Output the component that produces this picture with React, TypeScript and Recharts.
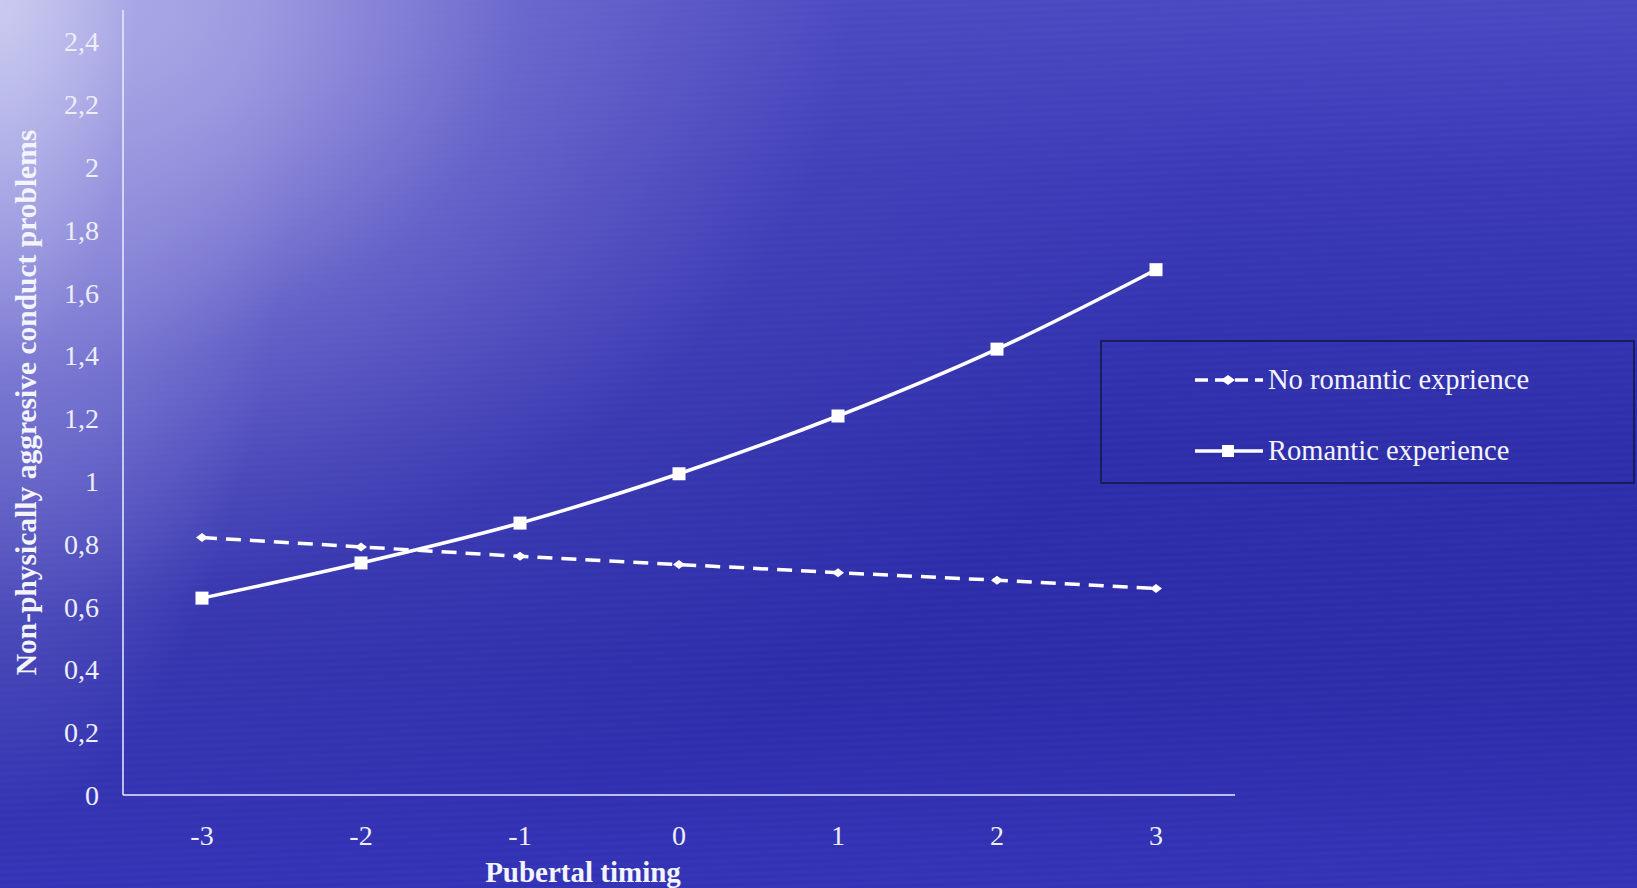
import React from 'react';
import { LineChart, Line, XAxis, YAxis, Legend } from 'recharts';

const categories = ['-3', '-2', '-1', '0', '1', '2', '3'];
const noRomantic = [0.82, 0.79, 0.76, 0.734, 0.708, 0.684, 0.658];
const romantic = [0.627, 0.739, 0.866, 1.023, 1.207, 1.42, 1.673];
const yTicks = [0, 0.2, 0.4, 0.6, 0.8, 1, 1.2, 1.4, 1.6, 1.8, 2, 2.2, 2.4];

const seriesNames = {
  noRomantic: 'No romantic exprience',
  romantic: 'Romantic experience',
};

const data = categories.map((c, i) => ({
  x: c,
  noRomantic: noRomantic[i],
  romantic: romantic[i],
}));

const FONT = '"Liberation Serif", "Times New Roman", serif';

const DiamondDot = (props: any) => {
  const { cx, cy, index } = props;
  if (cx == null || cy == null) return null;
  return (
    <polygon
      key={`d-${index}`}
      points={`${cx - 6},${cy} ${cx},${cy - 4.5} ${cx + 6},${cy} ${cx},${cy + 4.5}`}
      fill="#ffffff"
    />
  );
};

const SquareDot = (props: any) => {
  const { cx, cy, index } = props;
  if (cx == null || cy == null) return null;
  return <rect key={`s-${index}`} x={cx - 6.5} y={cy - 6.5} width={13} height={13} fill="#ffffff" />;
};

const renderLegend = () => {
  const rows = [
    { name: seriesNames.noRomantic, dashed: true, top: 38 },
    { name: seriesNames.romantic, dashed: false, top: 109 },
  ];
  return (
    <div style={{ position: 'relative', width: 531, height: 140 }}>
      {rows.map((r) => (
        <div
          key={r.name}
          style={{
            position: 'absolute',
            left: 91,
            top: r.top - 18,
            height: 36,
            display: 'flex',
            alignItems: 'center',
            whiteSpace: 'nowrap',
          }}
        >
          <svg width={72} height={20} style={{ display: 'block' }}>
            <line
              x1={2}
              y1={10}
              x2={70}
              y2={10}
              stroke="#ffffff"
              strokeWidth={3.5}
              strokeDasharray={r.dashed ? '13 7' : undefined}
            />
            {r.dashed ? (
              <polygon points="28,10 35,5 42,10 35,15" fill="#ffffff" />
            ) : (
              <rect x={29} y={4} width={12} height={12} fill="#ffffff" />
            )}
          </svg>
          <span style={{ fontFamily: FONT, fontSize: 28.5, color: '#f4f4fb', marginLeft: 3 }}>{r.name}</span>
        </div>
      ))}
    </div>
  );
};

const YLabel = (props: any) => {
  const { viewBox } = props;
  const cx = 26;
  const cy = viewBox.y + viewBox.height / 2;
  return (
    <text
      x={cx}
      y={cy}
      transform={`rotate(-90, ${cx}, ${cy})`}
      textAnchor="middle"
      dominantBaseline="central"
      fill="#f4f4fb"
      fontFamily={FONT}
      fontWeight="bold"
      fontSize={29.5}
    >
      Non-physically aggresive conduct problems
    </text>
  );
};

const XLabel = (props: any) => {
  const { viewBox } = props;
  return (
    <text
      x={583}
      y={viewBox.y + 77}
      textAnchor="middle"
      dominantBaseline="central"
      fill="#f4f4fb"
      fontFamily={FONT}
      fontWeight="bold"
      fontSize={29}
    >
      Pubertal timing
    </text>
  );
};

export default function App() {
  const bg =
    'radial-gradient(ellipse 300px 820px at 0px 0px, rgba(200,200,240,0.75) 0%, rgba(150,148,222,0.45) 45%, rgba(42,42,170,0) 100%),' +
    'radial-gradient(ellipse 1250px 900px at 0px 0px, rgba(210,210,242,1) 0%, rgba(172,170,230,0.9) 18%, rgba(120,116,210,0.7) 42%, rgba(80,78,190,0.35) 68%, rgba(42,42,170,0) 100%),' +
    'repeating-linear-gradient(178deg, rgba(255,255,255,0.0) 0px, rgba(255,255,255,0.025) 3px, rgba(255,255,255,0.0) 7px),' +
    'linear-gradient(180deg, #4a48c2 0%, #3a38b6 20%, #2d2daa 50%, #2b2ba9 75%, #3232b6 100%)';
  return (
    <div
      style={{
        position: 'fixed',
        left: 0,
        top: 0,
        width: 1637,
        height: 888,
        background: bg,
        overflow: 'hidden',
      }}
    >
      <LineChart width={1637} height={888} data={data} margin={{ top: 10, right: 402, bottom: 0, left: 0 }}>
        <XAxis
          dataKey="x"
          height={93}
          padding={{ left: 79, right: 79 }}
          axisLine={{ stroke: 'rgba(235,235,255,0.75)', strokeWidth: 2 }}
          tickLine={false}
          tickSize={0}
          tickMargin={30}
          tick={{ fill: '#eeeef8', fontFamily: FONT, fontSize: 28 }}
          label={<XLabel />}
        />
        <YAxis
          width={123}
          domain={[0, 2.5]}
          ticks={yTicks}
          interval={0}
          axisLine={{ stroke: 'rgba(235,235,255,0.75)', strokeWidth: 2 }}
          tickLine={false}
          tickSize={0}
          tickMargin={24}
          tickFormatter={(v: number) => String(v).replace('.', ',')}
          tick={{ fill: '#eeeef8', fontFamily: FONT, fontSize: 28 }}
          label={<YLabel />}
        />
        <Legend
          layout="vertical"
          align="center"
          verticalAlign="middle"
          content={renderLegend}
          wrapperStyle={{
            position: 'absolute',
            left: 1100,
            top: 340,
            width: 535,
            height: 144,
            border: '2px solid #1c1c5c',
            boxSizing: 'border-box',
          }}
        />
        <Line
          type="linear"
          dataKey="noRomantic"
          name={seriesNames.noRomantic}
          stroke="#ffffff"
          strokeWidth={3.5}
          strokeDasharray="15 9"
          dot={<DiamondDot />}
          activeDot={false}
          isAnimationActive={false}
        />
        <Line
          type="monotone"
          dataKey="romantic"
          name={seriesNames.romantic}
          stroke="#ffffff"
          strokeWidth={3.5}
          dot={<SquareDot />}
          activeDot={false}
          isAnimationActive={false}
        />
      </LineChart>
    </div>
  );
}
